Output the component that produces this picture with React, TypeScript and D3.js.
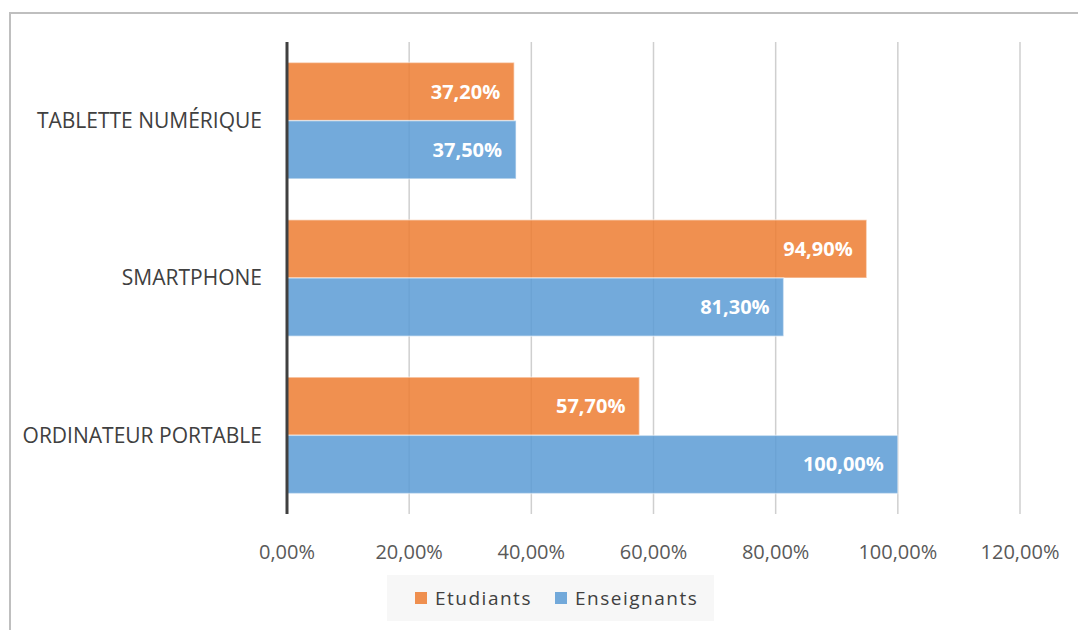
import { useEffect, useRef } from "react";
import * as d3 from "d3";

const categories = ["TABLETTE NUMÉRIQUE", "SMARTPHONE", "ORDINATEUR PORTABLE"];
const seriesNames = ["Etudiants", "Enseignants"];
const etudiants = [0.372, 0.949, 0.577];
const enseignants = [0.375, 0.813, 1.0];
const xTicks = [0, 0.2, 0.4, 0.6, 0.8, 1.0, 1.2];

const colors = ["#ED7D31", "#5B9BD5"];
const W = 1078;
const H = 630;
const margin = { top: 42, right: 58, bottom: 116, left: 287 };
const font = "'Open Sans', 'Liberation Sans', sans-serif";

const fmt = (v: number) => (v * 100).toFixed(2).replace(".", ",") + "%";

export default function App() {
  const ref = useRef<SVGSVGElement>(null);

  useEffect(() => {
    const svg = d3.select(ref.current);
    svg.selectAll("*").remove();

    const rows = categories.map((c, i) => ({
      category: c,
      values: [etudiants[i], enseignants[i]],
    }));

    const x = d3
      .scaleLinear()
      .domain([0, 1.2])
      .range([margin.left, W - margin.right]);

    const y = d3
      .scaleBand()
      .domain(categories)
      .range([margin.top, H - margin.bottom])
      .paddingInner(0.26)
      .paddingOuter(0.13);

    const ySub = d3
      .scaleBand()
      .domain(seriesNames)
      .range([0, y.bandwidth()])
      .padding(0);

    // outer frame
    svg
      .append("rect")
      .attr("x", 10)
      .attr("y", 13)
      .attr("width", W)
      .attr("height", H)
      .attr("fill", "white")
      .attr("stroke", "#bfbfbf")
      .attr("stroke-width", 2);

    // gridlines
    svg
      .append("g")
      .selectAll("line")
      .data(xTicks.slice(1))
      .enter()
      .append("line")
      .attr("x1", (d) => x(d))
      .attr("x2", (d) => x(d))
      .attr("y1", margin.top)
      .attr("y2", H - margin.bottom)
      .attr("stroke", "#cfcfcf")
      .attr("stroke-width", 1.5);

    // bars
    const groups = svg
      .append("g")
      .selectAll("g")
      .data(rows)
      .enter()
      .append("g")
      .attr("transform", (d) => `translate(0,${y(d.category)})`);

    groups
      .selectAll("rect")
      .data((d) => d.values.map((v, j) => ({ v, s: seriesNames[j], j })))
      .enter()
      .append("rect")
      .attr("x", x(0))
      .attr("y", (d) => ySub(d.s)!)
      .attr("width", (d) => x(d.v) - x(0))
      .attr("height", ySub.bandwidth())
      .attr("fill", (d) => colors[d.j])
      .attr("fill-opacity", 0.85)
      .attr("stroke", "white")
      .attr("stroke-opacity", 0.45)
      .attr("stroke-width", 1.5);

    groups
      .selectAll("text")
      .data((d) => d.values.map((v, j) => ({ v, s: seriesNames[j], j })))
      .enter()
      .append("text")
      .attr("x", (d) => x(d.v) - 14)
      .attr("y", (d) => ySub(d.s)! + ySub.bandwidth() / 2)
      .attr("dy", "0.35em")
      .attr("text-anchor", "end")
      .attr("fill", "white")
      .attr("font-family", font)
      .attr("font-weight", "bold")
      .attr("font-size", 20)
      .text((d) => fmt(d.v));

    // y axis line
    svg
      .append("line")
      .attr("x1", x(0))
      .attr("x2", x(0))
      .attr("y1", margin.top)
      .attr("y2", H - margin.bottom)
      .attr("stroke", "#404040")
      .attr("stroke-width", 3);

    // category labels
    svg
      .append("g")
      .selectAll("text")
      .data(categories)
      .enter()
      .append("text")
      .attr("x", 262)
      .attr("y", (d) => y(d)! + y.bandwidth() / 2)
      .attr("dy", "0.35em")
      .attr("text-anchor", "end")
      .attr("fill", "#404040")
      .attr("font-family", font)
      .attr("font-size", 21)
      .text((d) => d);

    // x tick labels
    svg
      .append("g")
      .selectAll("text")
      .data(xTicks)
      .enter()
      .append("text")
      .attr("x", (d) => x(d))
      .attr("y", 559)
      .attr("text-anchor", "middle")
      .attr("fill", "#595959")
      .attr("font-family", font)
      .attr("font-size", 20)
      .text((d) => fmt(d));

    // legend
    const lg = svg.append("g");
    lg.append("rect")
      .attr("x", 387)
      .attr("y", 575)
      .attr("width", 327)
      .attr("height", 46)
      .attr("fill", "#f7f7f7");
    const items = [
      { name: seriesNames[0], color: colors[0], x: 415 },
      { name: seriesNames[1], color: colors[1], x: 555 },
    ];
    items.forEach((it) => {
      lg.append("rect")
        .attr("x", it.x)
        .attr("y", 592)
        .attr("width", 12)
        .attr("height", 12)
        .attr("fill", it.color)
        .attr("fill-opacity", 0.85);
      lg.append("text")
        .attr("x", it.x + 20)
        .attr("y", 598)
        .attr("dy", "0.35em")
        .attr("fill", "#404040")
        .attr("font-family", font)
        .attr("font-size", 19)
        .attr("letter-spacing", 1.5)
        .text(it.name);
    });
  }, []);

  return (
    <div style={{ position: "fixed", left: 0, top: 0 }}>
      <svg ref={ref} width={W} height={H} style={{ display: "block" }} />
    </div>
  );
}
